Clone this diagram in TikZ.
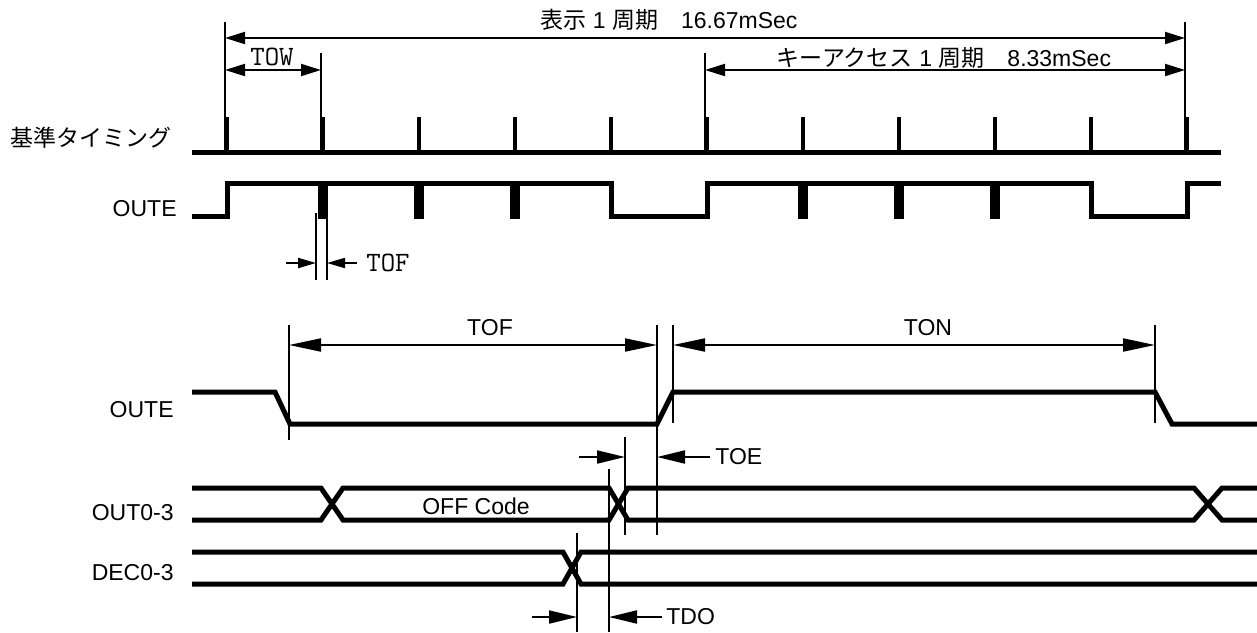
\documentclass[tikz,border=0pt]{standalone}
\usepackage{fontspec}
\setmainfont{Liberation Sans}
\newfontfamily\jpfont{Noto Sans CJK JP}
\usetikzlibrary{arrows.meta, positioning}

\begin{document}
\begin{tikzpicture}[x=0.5pt,y=-0.5pt,
 every node/.style={inner sep=0pt, font=\fontsize{11.5}{13}\selectfont},
 sig line/.style={line width=2.5pt, line join=miter},
 tick line/.style={line width=2.2pt},
 ext line/.style={line width=1pt},
 top dim/.style={line width=1pt, {Triangle[length=10pt,width=6pt]}-{Triangle[length=10pt,width=6pt]}},
 low dim/.style={line width=1pt, {Triangle[length=16pt,width=6.5pt]}-{Triangle[length=16pt,width=6.5pt]}},
 small arrow/.style={line width=1pt, -{Triangle[length=9pt,width=5pt]}},
 gap arrow/.style={line width=1pt, -{Triangle[length=14pt,width=6.5pt]}},
 mono label/.style={font=\fontsize{14}{16}\ttfamily},
 sig label/.style={anchor=east}]

 \useasboundingbox (0,0) rectangle (1257,632);

 % signal names
 \node[sig label] (ref name) at (172,138) {\jpfont 基準タイミング};
 \node[sig label] (oute name) at (177,209) {OUTE};
 \node[sig label] (oute2 name) at (174,410) {OUTE};
 \node[sig label] (out name) at (174,513) {OUT0-3};
 \node[sig label] (dec name) at (174,573) {DEC0-3};

 % reference timing
 \draw[sig line] (192,152) -- (1221,152);
 \foreach \k in {0,...,10}
  \draw[tick line] ({227+96*\k},117) -- ({227+96*\k},152);

 % OUTE (upper)
 \draw[sig line] (192,216) -- (227,216) -- (227,183) -- (611,183) -- (611,216)
  -- (707,216) -- (707,183) -- (1091,183) -- (1091,216) -- (1187,216)
  -- (1187,183) -- (1221,183);
 \foreach \k in {1,2,3,6,7,8}
  \fill ({222+96*\k},183) rectangle ({232+96*\k},218.5);

 % extension lines, upper part
 \coordinate (a0) at (225,38);  \coordinate (a1) at (1185,38);
 \coordinate (w0) at (225,70);  \coordinate (w1) at (321,70);
 \coordinate (k0) at (705,70);  \coordinate (k1) at (1185,70);
 \draw[ext line] (225,22) -- (225,150);
 \draw[ext line] (1185,22) -- (1185,150);
 \draw[ext line] (321,53) -- (321,150);
 \draw[ext line] (705,53) -- (705,150);

 \draw[top dim] (a0) -- (a1);
 \draw[top dim] (w0) -- (w1);
 \draw[top dim] (k0) -- (k1);
 \node (period) at (669,20) {{\jpfont 表示} 1 {\jpfont 周期　}16.67mSec};
 \node[mono label] (tow) at (272,57) {TOW};
 \node (key period) at (944,58) {{\jpfont キーアクセス} 1 {\jpfont 周期　}8.33mSec};

 % TOF (upper)
 \coordinate (f0) at (316,263); \coordinate (f1) at (327,263);
 \coordinate (f0 tail) at (286,263); \coordinate (f1 tail) at (357,263);
 \draw[ext line] (316,213) -- (316,280);
 \draw[ext line] (327,213) -- (327,280);
 \draw[small arrow] (f0 tail) -- (f0);
 \draw[small arrow] (f1 tail) -- (f1);
 \node[mono label, anchor=west] (tof small) at (366,263) {TOF};

 % OUTE (lower)
 \draw[sig line] (192,392) -- (275,392) -- (290,424) -- (657,424) -- (673,392)
  -- (1155,392) -- (1172,424) -- (1257,424);

 % OUT0-3
 \draw[sig line] (192,488) -- (321,488) -- (343,520) -- (609,520) -- (628,488)
  -- (1194,488) -- (1222,520) -- (1257,520);
 \draw[sig line] (192,520) -- (321,520) -- (343,488) -- (609,488) -- (628,520)
  -- (1194,520) -- (1222,488) -- (1257,488);
 \node (off code) at (476,506) {OFF Code};

 % DEC0-3
 \draw[sig line] (192,552) -- (563,552) -- (581,584) -- (1257,584);
 \draw[sig line] (192,584) -- (563,584) -- (581,552) -- (1257,552);

 % TOF / TON
 \coordinate (tof0) at (289,345); \coordinate (tof1) at (657,345);
 \coordinate (ton0) at (673,345); \coordinate (ton1) at (1155,345);
 \draw[ext line] (289,325) -- (289,440);
 \draw[ext line] (657,325) -- (657,535);
 \draw[ext line] (673,325) -- (673,423);
 \draw[ext line] (1155,325) -- (1155,423);
 \draw[low dim] (tof0) -- (tof1);
 \draw[low dim] (ton0) -- (ton1);
 \node (tof) at (490,328) {TOF};
 \node (ton) at (928,328) {TON};

 % TOE
 \coordinate (e0) at (625,457); \coordinate (e0 tail) at (579,457);
 \coordinate (e1) at (657,457); \coordinate (e1 tail) at (710,457);
 \draw[ext line] (625,437) -- (625,535);
 \draw[gap arrow] (e0 tail) -- (e0);
 \draw[gap arrow] (e1 tail) -- (e1);
 \node[anchor=west] (toe) at (715,457) {TOE};

 % TDO
 \coordinate (d0) at (577,617); \coordinate (d0 tail) at (532,617);
 \coordinate (d1) at (609,617); \coordinate (d1 tail) at (662,617);
 \draw[ext line] (577,533) -- (577,632);
 \draw[ext line] (609,469) -- (609,632);
 \draw[gap arrow] (d0 tail) -- (d0);
 \draw[gap arrow] (d1 tail) -- (d1);
 \node[anchor=west] (tdo) at (666,617) {TDO};

\end{tikzpicture}
\end{document}
